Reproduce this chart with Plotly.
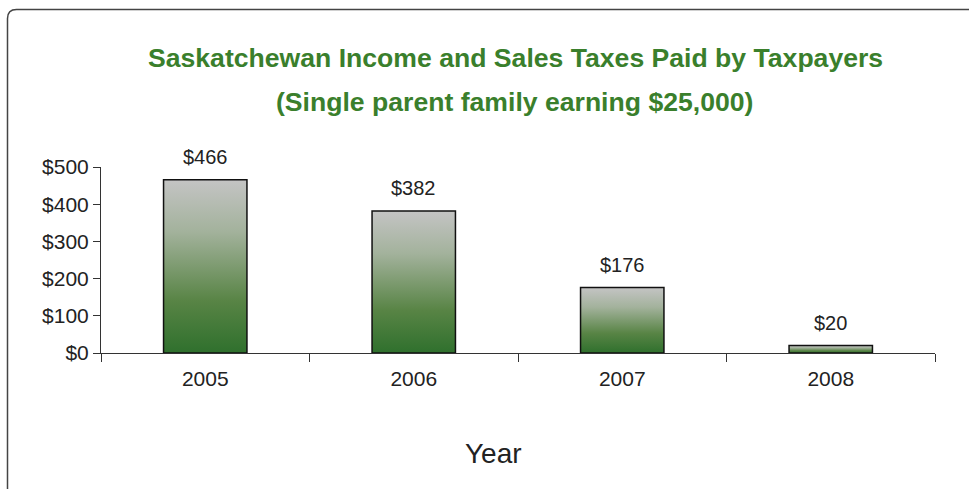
import plotly.graph_objects as go

# ---- data ----
years = ["2005", "2006", "2007", "2008"]
taxes = [466, 382, 176, 20]
y_ticks = [0, 100, 200, 300, 400, 500]
y_tick_labels = ["$0", "$100", "$200", "$300", "$400", "$500"]
title_line1 = "Saskatchewan Income and Sales Taxes Paid by Taxpayers"
title_line2 = "(Single parent family earning $25,000)"
x_title = "Year"

# ---- layout geometry (pixels) ----
W, H = 969, 489
L, R, T, B = 101, 935, 167, 353
BAR_W = 0.4
FONT = "Liberation Sans, Arial, Helvetica, sans-serif"
GREEN = "#3a7f2c"
TXT = "#222222"


def px(x):
    return (x - L) / (R - L)


def py(y):
    return (B - y) / (B - T)


fig = go.Figure()

xs = list(range(len(years)))
for i, v in zip(xs, taxes):
    fig.add_trace(go.Scatter(
        x=[i - BAR_W / 2, i + BAR_W / 2, i + BAR_W / 2, i - BAR_W / 2, i - BAR_W / 2],
        y=[0, 0, v, v, 0],
        mode="lines",
        fill="toself",
        fillgradient=dict(type="vertical",
                          colorscale=[[0, "#2f702d"], [0.3, "#588445"],
                                      [0.7, "#a3b29c"], [1, "#c4c4c4"]]),
        line=dict(color="#111111", width=1.5),
        hoverinfo="skip",
        showlegend=False,
    ))

annotations = []
for i, v in zip(xs, taxes):
    annotations.append(dict(x=i, y=v, xref="x", yref="y", text=f"${v}",
                            showarrow=False, yanchor="middle", yshift=23,
                            font=dict(family=FONT, size=20, color=TXT)))

annotations += [
    dict(x=px(515), y=py(58), xref="paper", yref="paper", text=f"<b>{title_line1}</b>",
         showarrow=False, xanchor="center", yanchor="middle",
         font=dict(family=FONT, size=26.6, color=GREEN)),
    dict(x=px(514), y=py(102), xref="paper", yref="paper", text=f"<b>{title_line2}</b>",
         showarrow=False, xanchor="center", yanchor="middle",
         font=dict(family=FONT, size=26.6, color=GREEN)),
    dict(x=px(493), y=py(453), xref="paper", yref="paper", text=x_title,
         showarrow=False, xanchor="center", yanchor="middle",
         font=dict(family=FONT, size=28, color=TXT)),
]

# border with rounded top-left corner, running off right and bottom
x0, y0, r = 7.5, 9.5, 9
xe, ye = 990, 520
border_path = (f"M {px(x0)},{py(ye)} L {px(x0)},{py(y0 + r)} "
               f"Q {px(x0)},{py(y0)} {px(x0 + r)},{py(y0)} L {px(xe)},{py(y0)}")

fig.update_layout(
    width=W, height=H,
    margin=dict(l=L, r=W - R, t=T, b=H - B),
    paper_bgcolor="white", plot_bgcolor="white",
    font=dict(family=FONT, size=20, color=TXT),
    annotations=annotations,
    shapes=[dict(type="path", xref="paper", yref="paper", path=border_path,
                 line=dict(color="#444444", width=1.5))],
    xaxis=dict(range=[-0.5, len(years) - 0.5], tickvals=xs, ticktext=years,
               ticks="", showline=True, linecolor="#333333", linewidth=1,
               showgrid=False, zeroline=False, ticklabelstandoff=7,
               minor=dict(tickvals=[k - 0.5 for k in range(len(years) + 1)],
                          ticks="outside", ticklen=8, tickcolor="#333333", tickwidth=1,
                          showgrid=False),
               tickfont=dict(family=FONT, size=21, color=TXT)),
    yaxis=dict(range=[0, 500], tickvals=y_ticks, ticktext=y_tick_labels,
               ticks="outside", ticklen=7, tickcolor="#333333",
               showline=True, linecolor="#333333", linewidth=1,
               showgrid=False, zeroline=False,
               tickfont=dict(family=FONT, size=21, color=TXT)),
)

fig.write_html("out.html", config={"displayModeBar": False},
               post_script="document.body.style.margin='0';")
